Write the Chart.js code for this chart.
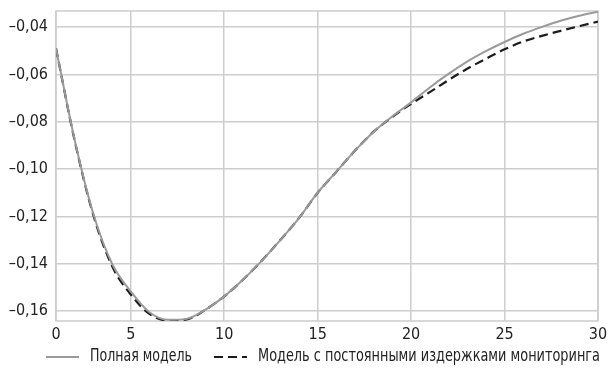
<!DOCTYPE html>
<html>
<head>
<meta charset="utf-8">
<script src="https://cdn.jsdelivr.net/npm/chart.js@4/dist/chart.umd.min.js"></script>
<style>
  html, body { margin: 0; padding: 0; background: #fff; }
  #wrap { width: 609px; height: 369px; }
</style>
</head>
<body>
<div id="wrap"><canvas id="c" width="609" height="369"></canvas></div>
<script>
// Periods along the horizontal axis
const periods = [1,2,3,4,5,6,7,8,9,10,11,12,13,14,15,16,17,18,19,20,21,22,23,24,25,26,27,28,29,30];

// Full model
const fullModel = [-0.0490,-0.0877,-0.1190,-0.1400,-0.1517,-0.1605,-0.1637,-0.1633,-0.1594,-0.1538,
                   -0.1468,-0.1388,-0.1300,-0.1207,-0.1100,-0.1011,-0.0922,-0.0842,-0.0777,-0.0718,
                   -0.0655,-0.0598,-0.0546,-0.0502,-0.0463,-0.0428,-0.0399,-0.0373,-0.0352,-0.0335];

// Model with constant monitoring costs
const constCostModel = [-0.0490,-0.0880,-0.1195,-0.1410,-0.1530,-0.1612,-0.1640,-0.1635,-0.1594,-0.1538,
                        -0.1468,-0.1388,-0.1300,-0.1207,-0.1100,-0.1011,-0.0922,-0.0842,-0.0779,-0.0724,
                        -0.0675,-0.0624,-0.0576,-0.0534,-0.0494,-0.0461,-0.0437,-0.0416,-0.0396,-0.0377];

const seriesNames = ['Полная модель', 'Модель с постоянными издержками мониторинга'];

// Tick positions and their printed labels
const xTickValues = [1, 5, 10, 15, 20, 25, 30];
const xTickLabels = ['0', '5', '10', '15', '20', '25', '30'];
const yTickValues = [-0.16, -0.14, -0.12, -0.10, -0.08, -0.06, -0.04];

const FONT = '"Liberation Sans Narrow", "DejaVu Sans Condensed", "Liberation Sans", sans-serif';
const GRID = '#cdcdcd';
const TEXT = '#222';

const toPoints = ys => periods.map((x, i) => ({ x, y: ys[i] }));

// Border around the plotting area
const frame = {
  id: 'frame',
  beforeDatasetsDraw(chart) {
    const { ctx, chartArea: a } = chart;
    ctx.save();
    ctx.strokeStyle = GRID;
    ctx.lineWidth = 1.5;
    ctx.strokeRect(a.left, a.top, a.right - a.left, a.bottom - a.top);
    ctx.restore();
  }
};

// One-row legend under the axis: line sample followed by a narrow label
const legendRow = {
  id: 'legendRow',
  afterDraw(chart, args, opts) {
    const { ctx } = chart;
    ctx.save();
    chart.data.datasets.forEach((ds, i) => {
      const it = opts.items[i];
      ctx.beginPath();
      ctx.setLineDash(ds.borderDash || []);
      ctx.strokeStyle = ds.borderColor;
      ctx.lineWidth = ds.borderWidth;
      ctx.moveTo(it.x, opts.y);
      ctx.lineTo(it.x + opts.sample, opts.y);
      ctx.stroke();
      ctx.setLineDash([]);
      ctx.fillStyle = TEXT;
      ctx.font = '17px ' + FONT;
      ctx.textBaseline = 'middle';
      ctx.textAlign = 'left';
      ctx.fillText(ds.label, it.x + opts.gap, opts.y, it.w);
    });
    ctx.restore();
  }
};

const fmt = v => (v < 0 ? '\u2013' : '') + Math.abs(v).toFixed(2).replace('.', ',');

new Chart(document.getElementById('c'), {
  type: 'line',
  data: {
    datasets: [
      {
        label: seriesNames[0],
        data: toPoints(fullModel),
        borderColor: '#9a9a9a',
        backgroundColor: '#9a9a9a',
        borderWidth: 2,
        pointRadius: 0,
        cubicInterpolationMode: 'monotone'
      },
      {
        label: seriesNames[1],
        data: toPoints(constCostModel),
        borderColor: '#1c1c1c',
        backgroundColor: '#1c1c1c',
        borderWidth: 2.2,
        borderDash: [9, 5],
        pointRadius: 0,
        cubicInterpolationMode: 'monotone'
      }
    ]
  },
  options: {
    responsive: false,
    animation: false,
    layout: { padding: { top: 11, right: 11, left: 0, bottom: 24 } },
    scales: {
      x: {
        type: 'linear',
        min: 1,
        max: 30,
        afterBuildTicks: s => { s.ticks = xTickValues.map(v => ({ value: v })); },
        afterFit: s => { s.height = 24; s.paddingLeft = 0; s.paddingRight = 0; },
        ticks: {
          autoSkip: false,
          maxRotation: 0,
          padding: 4,
          color: TEXT,
          font: { family: FONT, size: 16 },
          callback: v => xTickLabels[xTickValues.indexOf(v)]
        },
        grid: { color: GRID, lineWidth: 1.5, drawTicks: false },
        border: { display: false }
      },
      y: {
        min: -0.1642,
        max: -0.0332,
        afterBuildTicks: s => { s.ticks = yTickValues.map(v => ({ value: v })); },
        afterFit: s => { s.width = 56; s.paddingTop = 0; s.paddingBottom = 0; },
        ticks: {
          padding: 8,
          color: TEXT,
          font: { family: FONT, size: 16 },
          callback: v => fmt(v)
        },
        grid: { color: GRID, lineWidth: 1.5, drawTicks: false },
        border: { display: false }
      }
    },
    plugins: {
      tooltip: { enabled: false },
      legend: { display: false },
      legendRow: {
        y: 357,
        sample: 33,
        gap: 44,
        items: [ { x: 46, w: 102 }, { x: 214, w: 342 } ]
      }
    }
  },
  plugins: [frame, legendRow]
});
</script>
</body>
</html>
